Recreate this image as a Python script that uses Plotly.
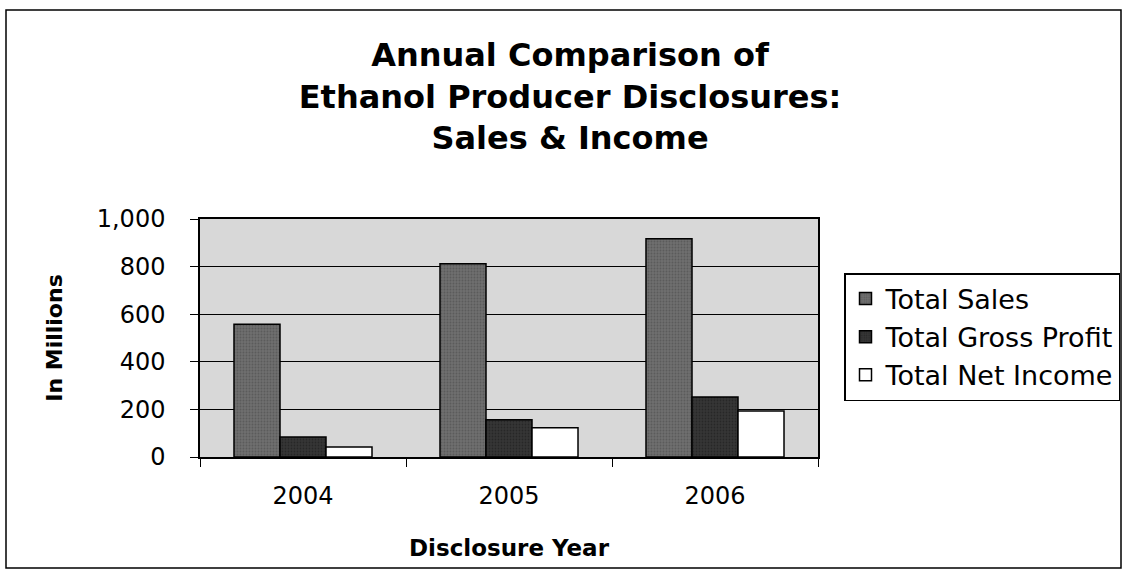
import plotly.graph_objects as go

years = ["2004", "2005", "2006"]
total_sales = [558, 812, 917]
total_gross_profit = [84, 157, 252]
total_net_income = [42, 123, 193]
y_ticks = [0, 200, 400, 600, 800, 1000]
y_tick_labels = ["0", "200", "400", "600", "800", "1,000"]

FONT = "DejaVu Sans, Verdana, sans-serif"
W, H = 1123, 582
L, R, T, B = 200, 305, 219, 125
pw, ph = W - L - R, H - T - B

def px(x):
    return (x - L) / pw

def py(y):
    return (H - B - y) / ph

fig = go.Figure()
series = [
    ("Total Sales", total_sales, "#6e6e6e", "#474747"),
    ("Total Gross Profit", total_gross_profit, "#363636", "#181818"),
    ("Total Net Income", total_net_income, "#ffffff", None),
]
for name, vals, col, pat in series:
    marker = dict(color=col, line=dict(color="#000000", width=1.5))
    if pat:
        marker["pattern"] = dict(shape=".", fgcolor=pat, size=3, solidity=0.3)
    fig.add_trace(go.Bar(x=years, y=vals, name=name, legendgroup=name, marker=marker))

fig.update_layout(
    width=W, height=H,
    margin=dict(l=L, r=R, t=T, b=B, pad=0, autoexpand=False),
    paper_bgcolor="#ffffff",
    plot_bgcolor="#d8d8d8",
    barmode="group",
    bargap=0.33,
    bargroupgap=0,
    font=dict(family=FONT, color="#000000", size=24),
    title=dict(
        text="<b>Annual Comparison of<br>Ethanol Producer Disclosures:<br>Sales &amp; Income</b>",
        x=570 / W, xanchor="center", y=1 - 66 / H, yanchor="middle",
        font=dict(family=FONT, size=32, color="#000000"),
    ),
    xaxis=dict(
        type="category",
        showline=True, linecolor="#000000", linewidth=1.5, mirror=True,
        ticks="outside", tickson="boundaries", ticklen=8, tickcolor="#000000",
        tickfont=dict(size=24), ticklabelstandoff=16,
        showgrid=False,
        title=dict(text="<b>Disclosure Year</b>", font=dict(size=23), standoff=31),
    ),
    yaxis=dict(
        range=[0, 1000],
        tickvals=y_ticks, ticktext=y_tick_labels,
        showline=True, linecolor="#000000", linewidth=1.5, mirror=True,
        ticks="outside", ticklen=8, tickcolor="#000000",
        tickfont=dict(size=24), ticklabelstandoff=20,
        showgrid=True, gridcolor="#000000", gridwidth=1,
        zeroline=False,
        title=dict(text="<b>In Millions</b>", font=dict(size=22), standoff=28),
    ),
    legend=dict(
        xref="container", yref="container",
        x=844 / W, xanchor="left", y=1 - 273 / H, yanchor="top",
        bordercolor="#000000", borderwidth=1.5, bgcolor="#ffffff",
        font=dict(size=27), tracegroupgap=0, itemwidth=30,
    ),
    showlegend=True,
)

fig.add_shape(type="rect", xref="paper", yref="paper",
              x0=px(6), x1=px(1121), y0=py(568), y1=py(10),
              line=dict(color="#000000", width=1.5), fillcolor="rgba(0,0,0,0)", layer="below")

fig.write_html("out.html")
